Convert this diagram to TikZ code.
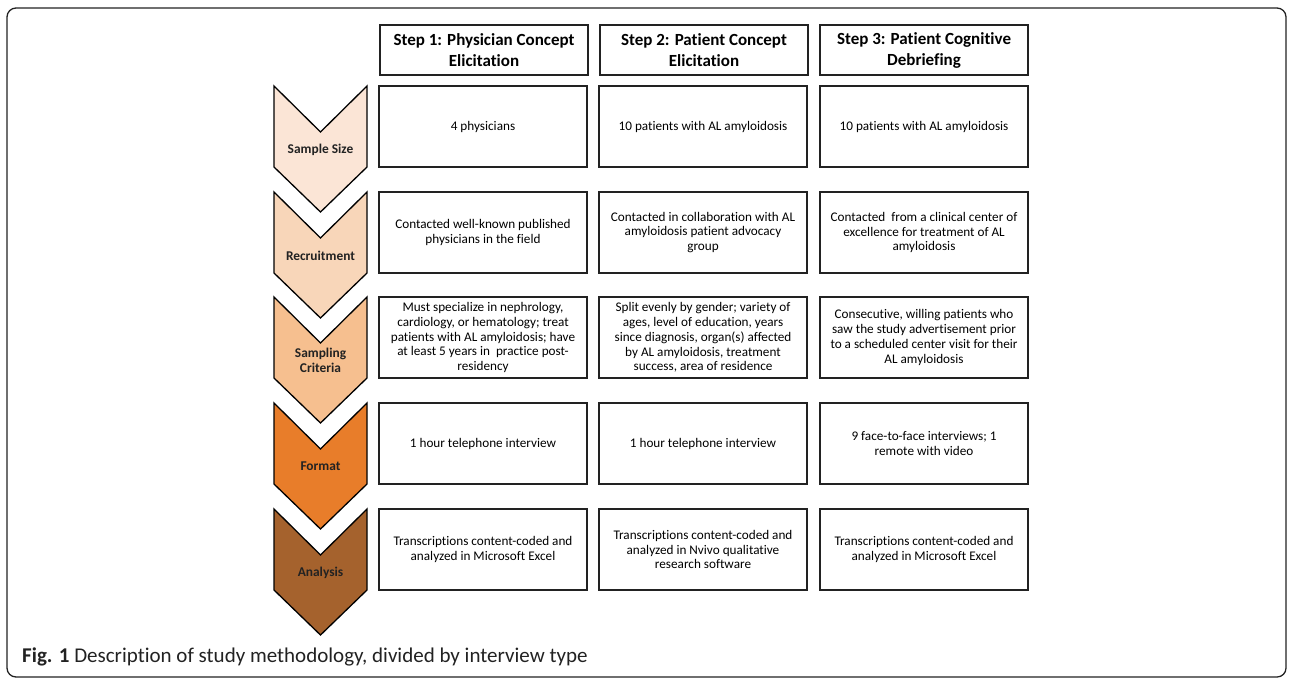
\documentclass[tikz,border=0pt]{standalone}
\usepackage{fontspec}
\setmainfont[Ligatures=NoCommon, RawFeature={-liga;-clig;-calt}]{Carlito}
\definecolor{c1}{HTML}{FBE5D6}
\definecolor{c2}{HTML}{F8D6B9}
\definecolor{c3}{HTML}{F6BF8F}
\definecolor{c4}{HTML}{E87D2A}
\definecolor{c5}{HTML}{A5622D}
\definecolor{ink}{HTML}{222222}
\begin{document}
\begin{tikzpicture}[x=1pt,y=-1pt,
  hdr/.style={draw=ink, line width=1.6pt, minimum width=208pt, minimum height=50pt, inner sep=0pt, align=center, font=\fontsize{17}{21}\selectfont\bfseries},
  cell/.style={draw=ink, line width=1.6pt, minimum width=208pt, minimum height=81pt, inner sep=0pt, align=center, font=\fontsize{13.2}{14.8}\selectfont},
  chev/.style={draw=black, line width=1.3pt, line join=miter},
  chevlabel/.style={font=\fontsize{13.4}{15}\selectfont\bfseries, align=center, text=ink},
  frame/.style={draw=ink, line width=1.3pt, rounded corners=9pt}]
\useasboundingbox (0,0) rectangle (1290,681);
\draw[frame] (7,8) rectangle (1286,677);

% headers
\node[hdr] (h1) at (484,50) {Step 1: Physician Concept\\Elicitation};
\node[hdr] (h2) at (704,50) {Step 2: Patient Concept\\Elicitation};
\node[hdr] (h3) at (924,50) {Step 3: Patient Cognitive\\Debriefing};

% chevrons
\foreach \t/\col/\lab/\nm in {86/c1/{Sample Size}/ss, 192/c2/Recruitment/rc, 297/c3/{Sampling\\Criteria}/sc, 403/c4/Format/fm, 509/c5/Analysis/an}{
  \pgfmathsetmacro{\b}{\t+81}
  \pgfmathsetmacro{\n}{\t+46}
  \pgfmathsetmacro{\p}{\b+45}
  \pgfmathsetmacro{\m}{(\n+\b)/2}
  \draw[chev, fill=\col] (274,\t) -- (320.5,\n) -- (367,\t) -- (367,\b) -- (320.5,\p) -- (274,\b) -- cycle;
  \node[chevlabel] (\nm) at (320.5,\m) {\lab};
}

% row 1
\node[cell] (r1a) at (483,126.5) {4 physicians};
\node[cell] (r1b) at (703,126.5) {10 patients with AL amyloidosis};
\node[cell] (r1c) at (924,126.5) {10 patients with AL amyloidosis};
% row 2
\node[cell] (r2a) at (483,232.5) {Contacted well-known published\\physicians in the field};
\node[cell] (r2b) at (703,232.5) {Contacted in collaboration with AL\\amyloidosis patient advocacy\\group};
\node[cell] (r2c) at (924,232.5) {Contacted\ \ from a clinical center of\\excellence for treatment of AL\\amyloidosis};
% row 3
\node[cell] (r3a) at (483,337.5) {Must specialize in nephrology,\\cardiology, or hematology; treat\\patients with AL amyloidosis; have\\at least 5 years in\ \ practice post-\\residency};
\node[cell] (r3b) at (703,337.5) {Split evenly by gender; variety of\\ages, level of education, years\\since diagnosis, organ(s) affected\\by AL amyloidosis, treatment\\success, area of residence};
\node[cell] (r3c) at (924,337.5) {Consecutive, willing patients who\\saw the study advertisement prior\\to a scheduled center visit for their\\AL amyloidosis};
% row 4
\node[cell] (r4a) at (483,443.5) {1 hour telephone interview};
\node[cell] (r4b) at (703,443.5) {1 hour telephone interview};
\node[cell] (r4c) at (924,443.5) {9 face-to-face interviews; 1\\remote with video};
% row 5
\node[cell] (r5a) at (483,549.5) {Transcriptions content-coded and\\analyzed in Microsoft Excel};
\node[cell] (r5b) at (703,549.5) {Transcriptions content-coded and\\analyzed in Nvivo qualitative\\research software};
\node[cell] (r5c) at (924,549.5) {Transcriptions content-coded and\\analyzed in Microsoft Excel};

% caption
\node[anchor=west, inner sep=0pt, font=\fontsize{21}{24}\selectfont, text=ink] (cap) at (22,657) {\textbf{Fig. 1} Description of study methodology, divided by interview type};
\end{tikzpicture}
\end{document}
